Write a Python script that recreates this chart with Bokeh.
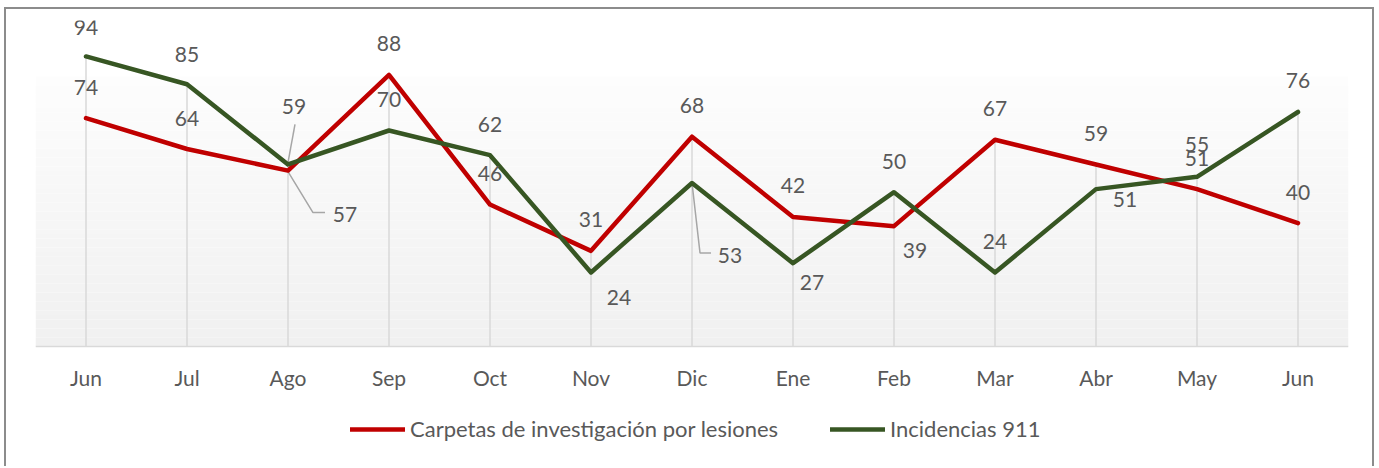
import numpy as np
from bokeh.plotting import figure
from bokeh.models import ColumnDataSource, Range1d, FixedTicker, Legend, LegendItem
from bokeh.core.properties import value
from bokeh.embed import file_html
from bokeh.resources import INLINE

# ---- data ----
months = ["Jun", "Jul", "Ago", "Sep", "Oct", "Nov", "Dic", "Ene", "Feb", "Mar", "Abr", "May", "Jun"]
carpetas = [74, 64, 57, 88, 46, 31, 68, 42, 39, 67, 59, 51, 40]
incidencias = [94, 85, 59, 70, 62, 24, 53, 27, 50, 24, 51, 55, 76]
series_names = ["Carpetas de investigación por lesiones", "Incidencias 911"]

# ---- label placement (screen px offsets from the point) ----
carpetas_label_off = [(0, -31), (0, -31), (57, 44), (0, -31), (0, -31), (0, -31), (0, -31),
                      (0, -31), (21, 24), (0, -31), (0, -31), (0, -31), (0, -31)]
incidencias_label_off = [(0, -29), (0, -30), (6, -58), (0, -31), (0, -31), (28, 25), (38, 73),
                         (19, 19), (0, -31), (0, -31), (29, 10), (0, -32), (0, -31)]
# leader lines: (series, index, list of px offsets from point)
leaders = [
    ("inc", 2, [(7, -40), (0, -2)]),
    ("car", 2, [(0, 1), (25, 42), (37, 42)]),
    ("inc", 6, [(0, 0), (8, 70), (19, 70)]),
]

# ---- styling / geometry (canvas pixels) ----
W, H = 1370, 459
ML, MR, MT, MB = 29, 28, 11, 0
ZERO_PX = 337          # canvas y of value 0
PXY = 3.0857           # px per unit
Y1 = (ZERO_PX - MT) / PXY
Y0 = -(H - MB - ZERO_PX) / PXY
RED, GREEN = "#C00000", "#375623"
TXT = "#595959"
FONT = "Lato"
FS = "21px"
LEG_FS = "22px"

frame_w = W - ML - MR
px_x = frame_w / 13.0
px_y = PXY

x = list(range(len(months)))

p = figure(width=W, height=H, x_range=Range1d(-0.5, 12.5), y_range=Range1d(Y0, Y1),
           output_backend="svg", toolbar_location=None,
           min_border_left=ML, min_border_right=MR, min_border_top=MT, min_border_bottom=MB)
p.styles = {"margin-left": "4px", "margin-top": "7px",
            "border-top": "2px solid #8c8c8c", "border-left": "2px solid #8c8c8c",
            "border-right": "2px solid #8c8c8c"}
p.background_fill_color = "white"
p.border_fill_color = "white"
p.outline_line_color = None
p.xgrid.visible = False
p.ygrid.visible = False
p.yaxis.visible = False

# gradient plot-area background
n = 60
gtop = 87.5
edges = np.linspace(0, gtop, n + 1)
c0 = np.array([240, 240, 240])
c1 = np.array([253, 253, 253])
cols = []
for i in range(n):
    t = (i + 0.5) / n
    c = (c0 + (c1 - c0) * t).round().astype(int)
    cols.append("#%02x%02x%02x" % tuple(c))
p.quad(left=-0.5, right=12.5, bottom=edges[:-1], top=edges[1:], fill_color=cols, line_color=None)

# drop lines
tops = [max(a, b) for a, b in zip(carpetas, incidencias)]
p.segment(x0=x, y0=[0] * len(x), x1=x, y1=tops, line_color="#d9d9d9", line_width=1.5)

# x axis (fixed at value 0)
ax = p.xaxis[0]
ax.fixed_location = 0
ax.ticker = FixedTicker(ticks=x)
ax.major_label_overrides = {i: m for i, m in enumerate(months)}
ax.major_tick_line_color = None
ax.minor_tick_line_color = None
ax.axis_line_color = "#d9d9d9"
ax.axis_line_width = 1.5
ax.major_label_text_font = FONT
ax.major_label_text_font_size = FS
ax.major_label_text_color = TXT
ax.major_label_standoff = 12

# leader lines
lx, ly = [], []
for s, i, offs in leaders:
    yv = incidencias[i] if s == "inc" else carpetas[i]
    lx.append([x[i] + dx / px_x for dx, dy in offs])
    ly.append([yv - dy / px_y for dx, dy in offs])
p.multi_line(xs=lx, ys=ly, line_color="#a6a6a6", line_width=1.5)

# series lines
r_car = p.line(x, carpetas, line_color=RED, line_width=4.5, line_join="round", line_cap="round")
r_inc = p.line(x, incidencias, line_color=GREEN, line_width=4.5, line_join="round", line_cap="round")

# data labels
for vals, offs in ((carpetas, carpetas_label_off), (incidencias, incidencias_label_off)):
    src = ColumnDataSource(dict(x=x, y=vals, t=[str(v) for v in vals],
                                dx=[o[0] for o in offs], dy=[o[1] for o in offs]))
    p.text(x="x", y="y", text="t", x_offset="dx", y_offset="dy", source=src,
           text_font=value(FONT), text_font_size=FS, text_color=TXT,
           text_align="center", text_baseline="middle")

# legends (one per item, placed below the axis, inside the frame)
for r, name, lx0 in ((r_car, series_names[0], 315), (r_inc, series_names[1], 795)):
    lg = Legend(items=[LegendItem(label=name, renderers=[r])], location=(lx0, 26),
                orientation="horizontal", padding=0, margin=0, spacing=0,
                glyph_width=55, glyph_height=22, label_height=22, label_standoff=5,
                border_line_color=None, background_fill_alpha=0,
                label_text_font=FONT, label_text_font_size=LEG_FS, label_text_color=TXT)
    p.add_layout(lg)

open("out.html", "w").write(file_html(p, INLINE))
